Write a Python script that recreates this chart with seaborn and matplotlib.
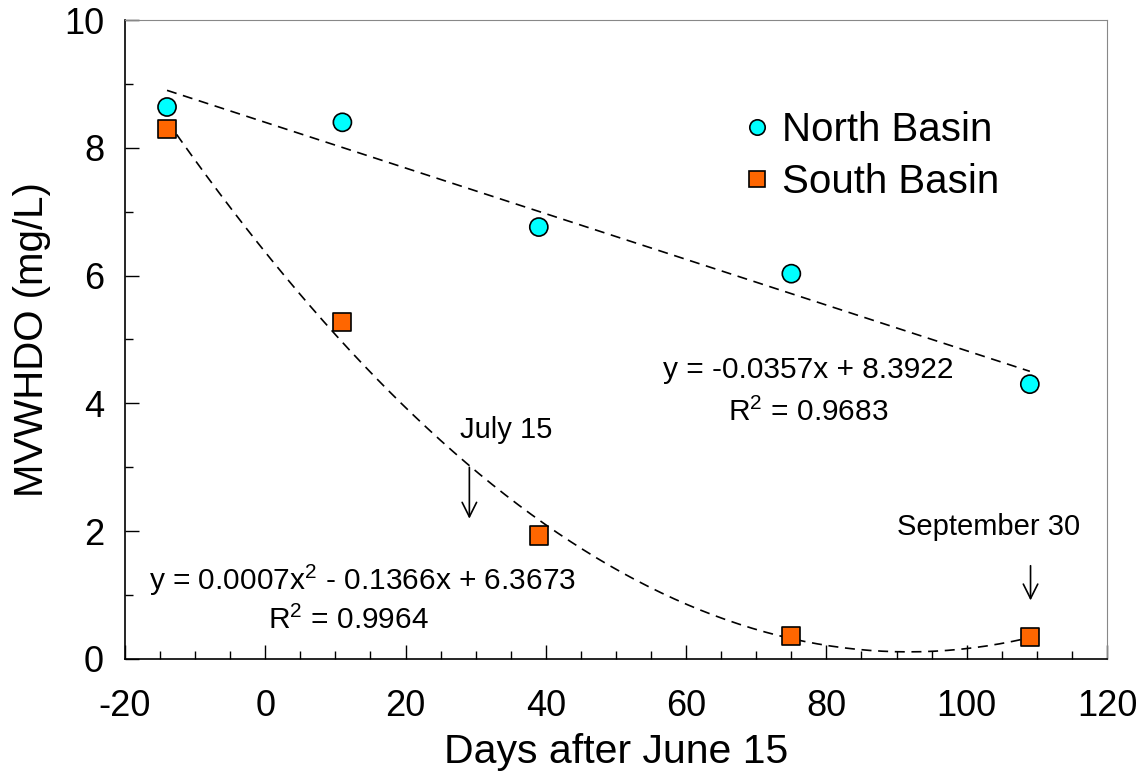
import numpy as np
import pandas as pd
import matplotlib
matplotlib.use("Agg")
import matplotlib.pyplot as plt
import seaborn as sns
from matplotlib.ticker import MultipleLocator

# data
days = [-14, 11, 39, 75, 109]
north_do = [8.64, 8.40, 6.76, 6.03, 4.30]
south_do = [8.30, 5.27, 1.93, 0.36, 0.34]
series_names = ["North Basin", "South Basin"]

north_eq = ["y = -0.0357x + 8.3922", "R$^2$ = 0.9683"]
south_eq = ["y = 0.0007x$^2$ - 0.1366x + 6.3673", "R$^2$ = 0.9964"]

sns.set_style("ticks")
plt.rcParams['font.family'] = ['Liberation Sans', 'DejaVu Sans']
plt.rcParams['mathtext.fontset'] = 'custom'
plt.rcParams['mathtext.rm'] = 'Liberation Sans'
plt.rcParams['axes.unicode_minus'] = False
plt.rcParams['text.color'] = 'black'
plt.rcParams['axes.labelcolor'] = 'black'
plt.rcParams['xtick.color'] = 'black'
plt.rcParams['ytick.color'] = 'black'

df = pd.DataFrame({
    "Days": days * 2,
    "DO": north_do + south_do,
    "Basin": [series_names[0]] * len(days) + [series_names[1]] * len(days),
})

fig = plt.figure(figsize=(11.39, 7.75), dpi=100)
ax = fig.add_axes([0.1097, 0.150, 0.8622, 0.824])

# trend lines fitted from the data
xs = np.linspace(min(days), max(days), 200)
lin = np.polyfit(days, north_do, 1)
quad = np.polyfit(days, south_do, 2)
ax.plot(xs, np.polyval(lin, xs), color='black', ls=(0, (6, 4)), lw=1.2, zorder=1)
ax.plot(xs, np.polyval(quad, xs), color='black', ls=(0, (6, 4)), lw=1.2, zorder=1)

sns.scatterplot(data=df, x="Days", y="DO", hue="Basin", style="Basin",
                palette={series_names[0]: '#00FFFF', series_names[1]: '#FF6600'},
                markers={series_names[0]: 'o', series_names[1]: 's'},
                s=170, edgecolor='black', linewidth=1.2, ax=ax, zorder=3)

ax.set_xlim(-20, 120)
ax.set_ylim(0, 10)
ax.xaxis.set_major_locator(MultipleLocator(20))
ax.xaxis.set_minor_locator(MultipleLocator(5))
ax.yaxis.set_major_locator(MultipleLocator(2))
ax.yaxis.set_minor_locator(MultipleLocator(1))
ax.tick_params(which='major', direction='in', length=10, width=1, labelsize=26)
ax.tick_params(axis='x', which='major', pad=22)
ax.tick_params(axis='y', which='major', pad=15)
ax.tick_params(which='minor', direction='in', length=6, width=1)
ax.set_xlabel("Days after June 15", fontsize=29.5, labelpad=6)
ax.set_ylabel("MVWHDO (mg/L)", fontsize=29, labelpad=9)
for side in ['top', 'right']:
    ax.spines[side].set_color('#888888')
for side in ['left', 'bottom']:
    ax.spines[side].set_color('black')
    ax.spines[side].set_linewidth(1.2)

ax.text(77.4, 4.52, north_eq[0], ha='center', va='center', fontsize=21.5)
ax.text(77.4, 3.87, north_eq[1], ha='center', va='center', fontsize=21.5)
ax.text(13.8, 1.24, south_eq[0], ha='center', va='center', fontsize=21.5)
ax.text(11.8, 0.61, south_eq[1], ha='center', va='center', fontsize=21.5)

ax.text(34.3, 3.58, "July 15", ha='center', va='center', fontsize=21)
ax.annotate('', xy=(29.1, 2.15), xytext=(29.1, 3.04),
            arrowprops=dict(arrowstyle='->', color='black', lw=1.2, mutation_scale=26))
ax.text(103.1, 2.07, "September 30", ha='center', va='center', fontsize=21)
ax.annotate('', xy=(109.1, 0.87), xytext=(109.1, 1.5),
            arrowprops=dict(arrowstyle='->', color='black', lw=1.2, mutation_scale=26))

leg = ax.legend(loc='upper left', bbox_to_anchor=(0.5866, 0.914), frameon=False,
                fontsize=29, handlelength=1, handletextpad=0.1, labelspacing=0.35,
                title=None, markerscale=0.85)

fig.savefig("out.png", dpi=100)
